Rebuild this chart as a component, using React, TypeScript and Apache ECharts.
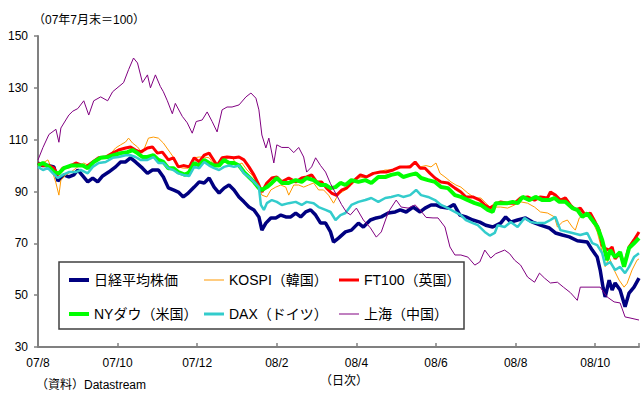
import React, { useEffect, useRef } from "react";
import * as echarts from "echarts";

// x = months since start of Aug 2007 (07/8 tick), y = index (end Jul 2007 = 100)
const xTickLabels = ["07/8", "07/10", "07/12", "08/2", "08/4", "08/6", "08/8", "08/10"];
const yTicks = [30, 50, 70, 90, 110, 130, 150];

const seriesNames = [
  "日経平均株価",
  "KOSPI（韓国）",
  "FT100（英国）",
  "NYダウ（米国）",
  "DAX（ドイツ）",
  "上海（中国）",
];

const nikkei: [number, number][] = [
  [0, 101], [0.125, 100], [0.275, 100], [0.4, 99.5], [0.5, 94], [0.65, 96.4], [0.775, 95.6], [0.9, 96.4],
  [1.0, 98.3], [1.125, 96], [1.25, 93.7], [1.375, 95.2], [1.5, 93.7], [1.625, 96], [1.775, 97.5], [1.95, 99.5],
  [2.075, 101.4], [2.2, 101.4], [2.325, 103], [2.45, 101.4], [2.625, 99], [2.75, 97], [2.875, 98.3], [3.025, 98.3],
  [3.15, 95.6], [3.275, 91.4], [3.4, 90.6], [3.525, 89.8], [3.65, 87.9], [3.775, 89.4], [3.925, 91.7], [4.05, 93.7],
  [4.175, 93.3], [4.3, 95.2], [4.425, 91.7], [4.55, 89.4], [4.675, 91.3], [4.8, 92.5], [4.925, 90.6], [5.05, 87.9],
  [5.175, 86], [5.3, 84], [5.425, 82.9], [5.55, 80.2], [5.625, 75.1], [5.725, 77.8], [5.85, 79.8], [5.975, 79.8],
  [6.1, 80.9], [6.225, 80.2], [6.35, 80.2], [6.475, 81.7], [6.6, 80.2], [6.725, 82.1], [6.85, 82.9], [6.975, 80.9],
  [7.1, 77.8], [7.225, 77.8], [7.35, 74.4], [7.425, 70.5], [7.55, 72], [7.725, 74.4], [7.875, 75.1], [8.05, 77.8],
  [8.175, 76.3], [8.35, 79], [8.5, 79.8], [8.625, 80.2], [8.8, 81.7], [8.975, 82.1], [9.1, 82.9], [9.25, 82.1],
  [9.425, 84], [9.6, 82.1], [9.725, 83.6], [9.875, 84.8], [10.0, 84.8], [10.125, 84], [10.3, 83.6], [10.45, 85],
  [10.6, 80.9], [10.75, 80.2], [10.925, 79], [11.1, 78.2], [11.25, 77], [11.425, 76.3], [11.625, 77.8], [11.75, 80.2],
  [11.875, 78.2], [12.05, 79], [12.25, 79.8], [12.425, 78.2], [12.625, 77], [12.85, 75.9], [13.0, 74], [13.175, 73.2],
  [13.35, 72.5], [13.55, 71], [13.8, 70.5], [13.925, 67.4], [14.05, 64.7], [14.125, 59.7], [14.2, 52.7], [14.25, 49.3],
  [14.35, 55.8], [14.425, 52], [14.5, 54.7], [14.625, 52], [14.75, 45.5], [14.85, 50.8], [14.975, 53.1], [15.1, 56.6],
];

const kospi: [number, number][] = [
  [0, 100], [0.125, 101], [0.25, 102.2], [0.325, 99.5], [0.45, 93.3], [0.525, 88.6], [0.575, 94.4], [0.7, 96.4],
  [0.825, 97.5], [1.0, 99.5], [1.15, 101], [1.275, 100], [1.4, 101.4], [1.575, 103], [1.75, 103.3], [1.95, 106.8],
  [2.075, 108], [2.2, 109.1], [2.275, 110.6], [2.375, 108.7], [2.5, 107.2], [2.625, 104.8], [2.775, 110.6], [2.9, 111],
  [3.025, 110.6], [3.15, 108.7], [3.275, 106], [3.4, 103.3], [3.525, 99.5], [3.65, 99], [3.775, 99], [3.925, 103],
  [4.05, 103.3], [4.175, 103.3], [4.3, 103], [4.375, 101.4], [4.5, 100], [4.625, 102.2], [4.75, 103], [4.875, 103.3],
  [5.0, 100], [5.125, 101], [5.25, 98.3], [5.375, 96.4], [5.5, 93.7], [5.625, 88.6], [5.75, 87.9], [5.85, 90.6],
  [5.975, 91.7], [6.1, 92.5], [6.225, 91.7], [6.3, 88.6], [6.425, 92.5], [6.55, 92.5], [6.675, 91.7], [6.8, 92.5],
  [6.925, 93.3], [7.05, 90.6], [7.175, 90.6], [7.3, 88.6], [7.425, 85.5], [7.55, 89], [7.725, 90.6], [7.875, 92.5],
  [8.05, 95.2], [8.225, 95.6], [8.375, 97], [8.55, 97.5], [8.725, 98.3], [8.875, 98.3], [9.05, 99], [9.225, 99.5],
  [9.35, 100], [9.475, 101], [9.6, 99.5], [9.75, 100], [9.875, 99.5], [10.0, 101], [10.1, 97], [10.225, 95.6],
  [10.375, 93.7], [10.5, 92.5], [10.625, 91.7], [10.8, 89.4], [10.975, 87.5], [11.125, 87.5], [11.3, 84.8], [11.425, 82.9],
  [11.525, 84], [11.625, 84], [11.8, 83.6], [11.975, 84.8], [12.125, 86], [12.3, 85.5], [12.475, 84], [12.625, 82.1],
  [12.8, 81.7], [12.975, 80.2], [13.05, 76.3], [13.175, 78.2], [13.3, 79], [13.425, 76.3], [13.5, 75.1], [13.6, 79.8],
  [13.725, 81.7], [13.85, 79.8], [13.975, 77], [14.05, 74.4], [14.125, 70], [14.25, 61], [14.35, 64.7], [14.475, 59.7],
  [14.6, 55.8], [14.725, 53.1], [14.8, 54.5], [14.925, 59.7], [15.05, 63.5], [15.1, 64],
];

const ft100: [number, number][] = [
  [0, 101], [0.125, 100], [0.275, 100], [0.4, 99], [0.5, 96.4], [0.625, 99], [0.775, 99.5], [0.95, 101],
  [1.125, 100], [1.2, 99.5], [1.375, 101.4], [1.525, 103], [1.7, 103.3], [1.875, 104.8], [2.025, 106], [2.2, 106.8],
  [2.325, 107.2], [2.45, 106], [2.575, 105.2], [2.75, 106.8], [2.875, 107.2], [3.0, 104.8], [3.125, 105.2], [3.275, 102.2],
  [3.4, 103], [3.525, 99.5], [3.65, 100], [3.8, 99.5], [3.925, 103], [4.05, 101.4], [4.175, 104], [4.3, 104.8],
  [4.375, 103], [4.5, 100], [4.625, 103], [4.75, 103.3], [4.925, 103], [5.05, 103.3], [5.175, 102.2], [5.3, 99.5],
  [5.425, 96.4], [5.55, 92.5], [5.625, 89.8], [5.75, 93.3], [5.875, 95.2], [6.0, 95.6], [6.125, 93.7], [6.3, 95.2],
  [6.475, 93.7], [6.625, 95.2], [6.75, 95.6], [6.875, 96.4], [7.0, 93.7], [7.125, 93.7], [7.25, 91.3], [7.375, 89.4],
  [7.5, 88.5], [7.625, 90.5], [7.75, 91.3], [7.875, 93.3], [8.1, 96.4], [8.25, 95.6], [8.425, 97], [8.6, 97.5],
  [8.75, 97.5], [8.925, 98.3], [9.1, 99.5], [9.35, 99.5], [9.475, 101.4], [9.6, 99], [9.725, 99], [9.85, 97],
  [9.975, 95.2], [10.125, 93.7], [10.3, 93.3], [10.475, 91.3], [10.625, 89.8], [10.75, 87.9], [10.925, 87.9], [11.1, 86.7],
  [11.225, 84.8], [11.35, 83.6], [11.475, 84.8], [11.625, 86], [11.8, 85.5], [11.975, 85.5], [12.125, 87.5], [12.3, 87.9],
  [12.475, 86.7], [12.625, 87.9], [12.8, 87.5], [12.875, 89.8], [13.0, 88.6], [13.125, 86.7], [13.25, 87.5], [13.375, 84.8],
  [13.5, 82.9], [13.625, 83.6], [13.75, 80.9], [13.875, 81.7], [14.0, 78.2], [14.1, 75.1], [14.175, 69.3], [14.25, 68],
  [14.35, 67.4], [14.425, 68.6], [14.5, 64], [14.625, 66.2], [14.725, 61.5], [14.85, 68.5], [14.975, 71.3], [15.1, 74.4],
];

const nyDow: [number, number][] = [
  [0, 100], [0.125, 101], [0.275, 99.5], [0.4, 97.5], [0.525, 97], [0.65, 99], [0.825, 100], [0.95, 100],
  [1.125, 100], [1.25, 99], [1.4, 101.4], [1.575, 103], [1.75, 103.3], [1.9, 104], [2.075, 104.8], [2.25, 105.2],
  [2.375, 106], [2.5, 104.8], [2.625, 103.3], [2.75, 103.3], [2.9, 104], [3.025, 102.2], [3.15, 101.4], [3.275, 99],
  [3.4, 99], [3.525, 97.5], [3.7, 96.4], [3.8, 97.5], [3.925, 101], [4.05, 100], [4.175, 102.2], [4.3, 101],
  [4.425, 100], [4.55, 100], [4.675, 102.2], [4.8, 101], [4.925, 101], [5.05, 100], [5.175, 97.5], [5.3, 95.6],
  [5.425, 93.7], [5.55, 91.3], [5.625, 90.6], [5.75, 91.7], [5.875, 93.3], [6.0, 95.2], [6.125, 93.3], [6.3, 93.3],
  [6.475, 94.4], [6.625, 93.7], [6.75, 95.2], [6.925, 94.4], [7.1, 92.5], [7.225, 92.5], [7.35, 91.3], [7.475, 91.7],
  [7.6, 93.3], [7.725, 92.5], [7.875, 94.4], [8.05, 93.7], [8.225, 94.4], [8.375, 93.3], [8.55, 95.6], [8.725, 95.6],
  [8.875, 96.4], [9.05, 97], [9.175, 95.6], [9.35, 96.4], [9.5, 97], [9.625, 95.2], [9.8, 94.4], [9.975, 93.7],
  [10.125, 91.7], [10.3, 91.3], [10.475, 88.6], [10.625, 87.9], [10.8, 86.7], [10.975, 85.5], [11.125, 84.8], [11.3, 82.9],
  [11.425, 82.1], [11.5, 85.5], [11.625, 85.5], [11.8, 85.5], [11.925, 86], [12.05, 85.5], [12.175, 87.9], [12.35, 86.7],
  [12.5, 87.9], [12.675, 86.7], [12.85, 86.7], [12.975, 87.5], [13.1, 86], [13.25, 86], [13.425, 83.6], [13.55, 82.9],
  [13.675, 80.2], [13.8, 81.5], [13.925, 79], [14.05, 76.5], [14.175, 71.3], [14.3, 63.5], [14.375, 67.4], [14.5, 64.7],
  [14.625, 66.6], [14.725, 61], [14.85, 68.2], [14.975, 70], [15.1, 72],
];

const dax: [number, number][] = [
  [0, 99.5], [0.125, 98.3], [0.25, 99], [0.375, 97], [0.5, 95.2], [0.625, 96.4], [0.775, 97.5], [0.95, 97.5],
  [1.075, 98.3], [1.25, 97], [1.375, 99.5], [1.525, 101], [1.7, 101.4], [1.875, 103], [2.025, 103.3], [2.2, 104],
  [2.325, 104], [2.45, 103.3], [2.575, 102.2], [2.75, 102.2], [2.9, 103.3], [3.025, 101], [3.15, 101], [3.275, 99],
  [3.4, 98.3], [3.525, 97], [3.65, 96.4], [3.8, 96], [3.925, 99.5], [4.05, 99], [4.175, 101.4], [4.3, 100],
  [4.425, 99], [4.55, 98.3], [4.675, 99.5], [4.8, 100], [4.925, 99.5], [5.05, 100], [5.175, 97], [5.3, 95.6],
  [5.425, 93.7], [5.55, 91.7], [5.6, 84.8], [5.675, 82.9], [5.75, 85.5], [5.875, 86.7], [6.0, 86], [6.125, 84.8],
  [6.3, 85.5], [6.475, 86], [6.625, 84.8], [6.75, 86], [6.925, 85.5], [7.05, 84], [7.225, 82.9], [7.35, 82.1],
  [7.475, 79], [7.6, 80.9], [7.725, 81.7], [7.875, 84.8], [8.05, 86], [8.225, 86.7], [8.375, 87.5], [8.55, 86],
  [8.725, 87.5], [8.875, 87.9], [9.05, 88.6], [9.175, 87.9], [9.35, 88.6], [9.5, 90.6], [9.625, 88.6], [9.8, 87.9],
  [9.975, 86.7], [10.125, 84.8], [10.3, 83.6], [10.475, 82.1], [10.625, 80.9], [10.75, 79], [10.925, 77.8], [11.05, 77],
  [11.225, 74.4], [11.35, 73], [11.475, 74], [11.55, 77], [11.725, 76.3], [11.875, 78.2], [12.05, 76.3], [12.225, 79.8],
  [12.375, 78.2], [12.55, 77.8], [12.725, 77.8], [12.875, 79], [13.0, 80.2], [13.125, 75.1], [13.375, 74.2], [13.625, 73.2],
  [13.8, 74], [13.925, 70.1], [14.05, 69.3], [14.175, 66.2], [14.25, 61.6], [14.375, 62.8], [14.5, 59.7], [14.625, 60.9],
  [14.75, 58.5], [14.85, 60.9], [14.975, 64.7], [15.1, 66.2],
];

const shanghai: [number, number][] = [
  [0, 102.2], [0.125, 107], [0.275, 112], [0.45, 114], [0.525, 109], [0.575, 114.5], [0.775, 119.5], [0.875, 121],
  [1.0, 122], [1.15, 125], [1.275, 119.5], [1.4, 125], [1.575, 126.5], [1.75, 125], [1.875, 128.5], [2.15, 132],
  [2.275, 137], [2.4, 141.5], [2.5, 139.6], [2.625, 132], [2.75, 135], [2.825, 130], [2.95, 135], [3.075, 130.5],
  [3.15, 128.5], [3.25, 125], [3.375, 120], [3.45, 124], [3.625, 119], [3.75, 116.5], [3.875, 112.5], [3.975, 117],
  [4.125, 117.6], [4.25, 120.7], [4.375, 117], [4.5, 113], [4.625, 121.5], [4.75, 122.6], [4.875, 122.6], [5.05, 123.4],
  [5.225, 126.5], [5.35, 128], [5.475, 126], [5.55, 121.5], [5.625, 111.8], [5.725, 106.8], [5.8, 110.6], [5.925, 101],
  [6.0, 108], [6.125, 107], [6.3, 107], [6.425, 105], [6.55, 107], [6.675, 103.3], [6.75, 97.5], [6.875, 99.5],
  [6.975, 103], [7.1, 100], [7.225, 97.5], [7.35, 93], [7.475, 89.4], [7.625, 85], [7.75, 82], [7.85, 81],
  [8.0, 83.6], [8.175, 79], [8.35, 76], [8.5, 72.4], [8.625, 74.4], [8.8, 82], [9.0, 86.7], [9.125, 84],
  [9.3, 83.6], [9.475, 84.8], [9.6, 82.9], [9.75, 80], [9.925, 79.8], [10.05, 79.8], [10.225, 76.3], [10.35, 68.6],
  [10.475, 65.5], [10.625, 65.5], [10.8, 64.7], [10.975, 61.6], [11.1, 62.8], [11.225, 67.4], [11.375, 64.3], [11.5, 66],
  [11.725, 67.4], [11.85, 66], [11.975, 63.5], [12.125, 61.6], [12.3, 57], [12.475, 55], [12.6, 58.5], [12.725, 56.6],
  [12.875, 54.7], [13.05, 55], [13.2, 53.1], [13.375, 51], [13.55, 48], [13.625, 53.1], [14.125, 53.1], [14.3, 49.3],
  [14.475, 47.4], [14.625, 47], [14.75, 41.6], [14.875, 41.2], [15.1, 40.4],
];

const seriesData = [nikkei, kospi, ft100, nyDow, dax, shanghai];
const seriesColors = ["#000080", "#FF9900", "#FF0000", "#00FF00", "#33CCCC", "#800080"];
const seriesWidths = [3.5, 1, 3, 4, 2.5, 1];
const legendThickness = [4, 1, 3, 4, 3, 1];

const FONT = "'Liberation Sans', 'Noto Sans CJK JP', sans-serif";

const legendItem = (i: number) => ({
  name: seriesNames[i],
  icon: `path://M0,0H20V${legendThickness[i]}H0Z`,
});

export default function App() {
  const ref = useRef<HTMLDivElement>(null);
  useEffect(() => {
    document.body.style.margin = "0";
    if (!ref.current) return;
    const chart = echarts.init(ref.current, undefined, { renderer: "svg" });
    const legendBase = {
      orient: "vertical" as const,
      top: 273,
      itemGap: 20,
      itemWidth: 20,
      itemHeight: 14,
      padding: 0,
      selectedMode: false,
      symbolKeepAspect: true,
      textStyle: { fontSize: 14, color: "#000", fontFamily: FONT },
    };
    chart.setOption({
      animation: false,
      backgroundColor: "#fff",
      grid: { left: 38, right: 0, top: 36, bottom: 47 },
      xAxis: {
        type: "value",
        min: 0,
        max: 15.1,
        interval: 2,
        axisLine: { show: true, lineStyle: { color: "#808080", width: 2 } },
        axisTick: { show: true, inside: true, length: 4, lineStyle: { color: "#808080", width: 1.5 } },
        axisLabel: {
          margin: 10,
          fontSize: 12,
          color: "#000",
          fontFamily: FONT,
          formatter: (v: number) => xTickLabels[Math.round(v / 2)] ?? "",
        },
        splitLine: { show: false },
      },
      yAxis: {
        type: "value",
        min: yTicks[0],
        max: yTicks[yTicks.length - 1],
        interval: 20,
        axisLine: { show: true, lineStyle: { color: "#808080", width: 2 } },
        axisTick: { show: true, inside: false, length: 4, lineStyle: { color: "#808080", width: 1.5 } },
        axisLabel: { margin: 10, fontSize: 12, color: "#000", fontFamily: FONT },
        splitLine: { show: false },
      },
      legend: [
        { ...legendBase, left: 69, data: [legendItem(0), legendItem(3)] },
        { ...legendBase, left: 204, data: [legendItem(1), legendItem(4)] },
        { ...legendBase, left: 339, data: [legendItem(2), legendItem(5)] },
      ],
      graphic: [
        {
          type: "rect",
          z: 3,
          shape: { x: 59, y: 262, width: 405, height: 67 },
          style: { fill: "#fff", stroke: "#404040", lineWidth: 1.5 },
        },
        {
          type: "text",
          z: 5,
          x: 33,
          y: 14,
          style: { text: "（07年7月末＝100）", font: `12px ${FONT}`, fill: "#000" },
        },
        {
          type: "text",
          z: 5,
          x: 320,
          y: 375,
          style: { text: "（日次）", font: `12px ${FONT}`, fill: "#000" },
        },
        {
          type: "text",
          z: 5,
          x: 36,
          y: 379,
          style: { text: "（資料）Datastream", font: `12px ${FONT}`, fill: "#000" },
        },
      ],
      series: seriesData.map((d, i) => ({
        name: seriesNames[i],
        type: "line",
        data: d,
        showSymbol: false,
        symbol: "none",
        z: 2,
        lineStyle: { color: seriesColors[i], width: seriesWidths[i] },
        itemStyle: { color: seriesColors[i] },
        emphasis: { disabled: true },
      })),
    });
    return () => chart.dispose();
  }, []);
  return <div ref={ref} style={{ width: 642, height: 394 }} />;
}
